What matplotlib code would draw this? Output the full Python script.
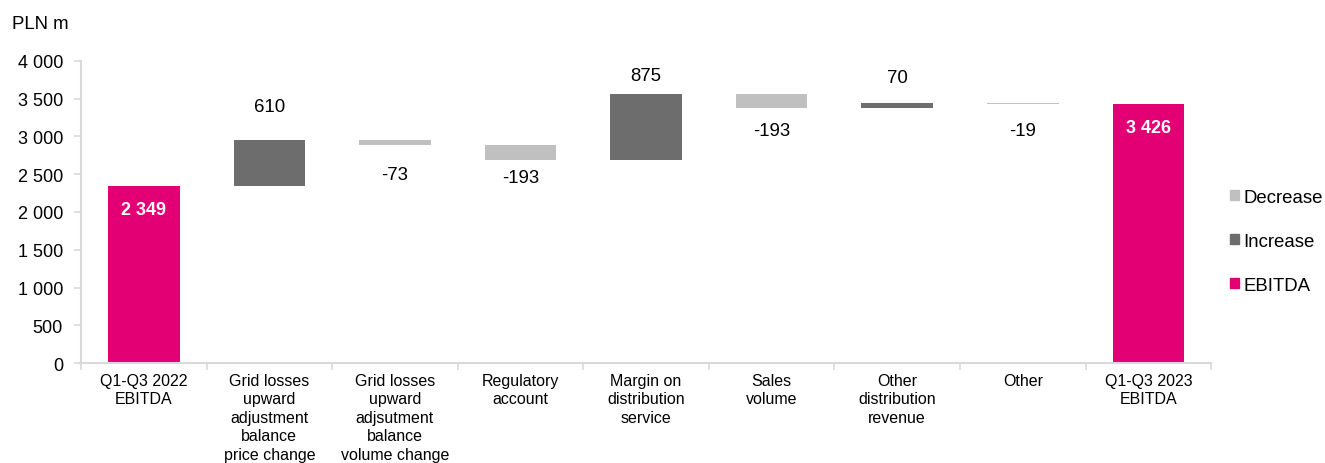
import numpy as np
import matplotlib.pyplot as plt

plt.rcParams['font.family'] = ['Liberation Sans', 'DejaVu Sans']

categories = [
    "Q1-Q3 2022\nEBITDA",
    "Grid losses\nupward\nadjustment\nbalance\nprice change",
    "Grid losses\nupward\nadjsutment\nbalance\nvolume change",
    "Regulatory\naccount",
    "Margin on\ndistribution\nservice",
    "Sales\nvolume",
    "Other\ndistribution\nrevenue",
    "Other",
    "Q1-Q3 2023\nEBITDA",
]
start_value = 2349
changes = [610, -73, -193, 875, -193, 70, -19]
end_value = 3426

# label distance from bar edge, in points (as placed in the original)
label_gap = [24, 21, 13, 13, 16, 18, 19]

MAGENTA = "#E20074"
DARK = "#6D6D6D"
LIGHT = "#C0C0C0"
AXIS = "#D9D9D9"


def fmt(v):
    return f"{v:,}".replace(",", " ")


fig = plt.figure(figsize=(13.25, 4.64), dpi=100)
ax = fig.add_axes([0.0611, 0.2155, 0.853, 0.6509])

x = np.arange(len(categories))
width = 0.57

# totals
ax.bar([x[0], x[-1]], [start_value, end_value], width=width, color=MAGENTA)
for xi, v in [(x[0], start_value), (x[-1], end_value)]:
    ax.annotate(fmt(v), (xi, v), xytext=(0, -17), textcoords="offset points",
                ha="center", va="center", color="white", fontsize=13, fontweight="bold")

# steps
level = start_value
for i, v in enumerate(changes, start=1):
    bottom = level if v > 0 else level + v
    color = DARK if v > 0 else LIGHT
    ax.bar(x[i], abs(v), bottom=bottom, width=width, color=color)
    if v > 0:
        ax.annotate(f"{v}", (x[i], level + v), xytext=(0, label_gap[i - 1]),
                    textcoords="offset points", ha="center", va="center", fontsize=13.4)
    else:
        ax.annotate(f"{v}", (x[i], level + v), xytext=(0, -label_gap[i - 1]),
                    textcoords="offset points", ha="center", va="center", fontsize=13.4)
    level += v

ax.set_xlim(-0.5, len(categories) - 0.5)
ax.set_ylim(0, 4000)
ax.set_yticks(range(0, 4001, 500))
ax.set_yticklabels([fmt(t) for t in range(0, 4001, 500)], fontsize=13)
ax.set_xticks(x)
ax.set_xticklabels(categories, fontsize=11.5, linespacing=1.29, va="top")
ax.set_xticks(np.arange(-0.5, len(categories), 1.0), minor=True)
ax.tick_params(axis="x", which="major", length=0, pad=7)
ax.tick_params(axis="x", which="minor", length=5, color=AXIS, width=1.2)
ax.tick_params(axis="y", length=5, color=AXIS, width=1.2, pad=8)

for s in ["top", "right"]:
    ax.spines[s].set_visible(False)
for s in ["left", "bottom"]:
    ax.spines[s].set_color(AXIS)
    ax.spines[s].set_linewidth(1.5)

fig.text(0.009, 0.948, "PLN m", fontsize=13.4, va="center")

# legend
handles = [plt.Rectangle((0, 0), 1, 1, color=c) for c in (LIGHT, DARK, MAGENTA)]
fig.legend(handles, ["Decrease", "Increase", "EBITDA"], loc="center left",
           bbox_to_anchor=(0.9155, 0.478), frameon=False, fontsize=13.4,
           handlelength=0.5, handleheight=0.5, handletextpad=0.25, labelspacing=1.45)

fig.savefig("out.png", dpi=100)
